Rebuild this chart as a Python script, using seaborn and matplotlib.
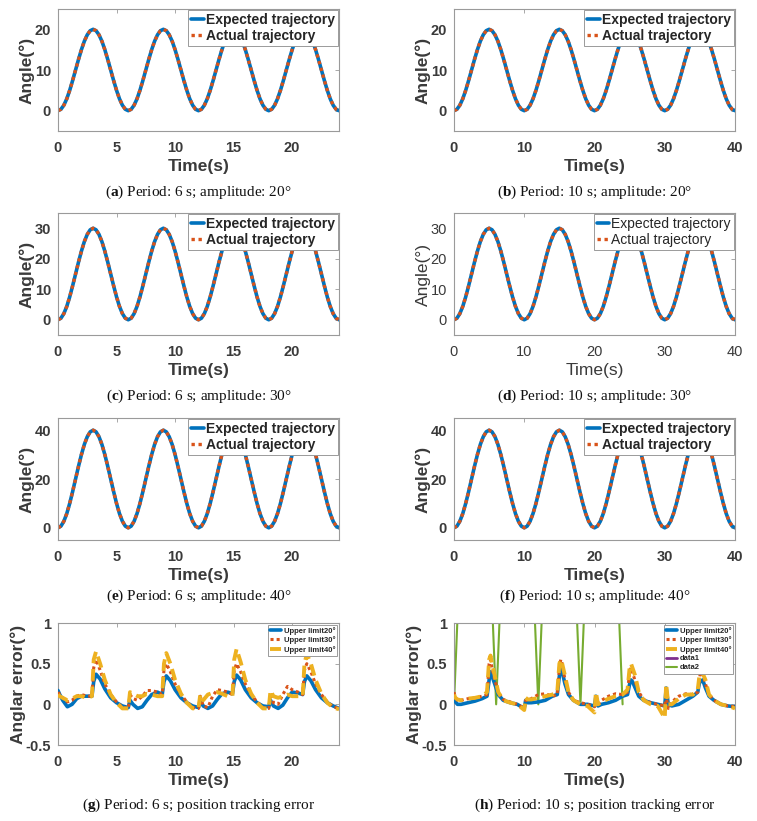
import matplotlib
matplotlib.use("Agg")
import matplotlib.pyplot as plt
import seaborn as sns

# one period of the trajectory, as a fraction of the amplitude (read every 1/24 of a period)
profile = [0.0, 0.017, 0.067, 0.146, 0.25, 0.371, 0.5, 0.629, 0.75, 0.854, 0.933, 0.983, 1.0,
           0.983, 0.933, 0.854, 0.75, 0.629, 0.5, 0.371, 0.25, 0.146, 0.067, 0.017]
periods = [6, 10, 6, 10, 6, 10]
amplitudes = [20, 20, 30, 30, 40, 40]
n_cycles = 4
yticks_traj = [[0, 10, 20], [0, 10, 20], [0, 10, 20, 30], [0, 10, 20, 30], [0, 20, 40], [0, 20, 40]]
ylims_traj = [(-5, 25), (-5, 25), (-5, 35), (-5, 35), (-5, 45), (-5, 45)]
captions = [("a", "Period: 6 s; amplitude: 20°"), ("b", "Period: 10 s; amplitude: 20°"),
            ("c", "Period: 6 s; amplitude: 30°"), ("d", "Period: 10 s; amplitude: 30°"),
            ("e", "Period: 6 s; amplitude: 40°"), ("f", "Period: 10 s; amplitude: 40°"),
            ("g", "Period: 6 s; position tracking error"), ("h", "Period: 10 s; position tracking error")]

# (g) tracking error, period 6 s
t_g = [0, 0.15, 0.4, 0.8, 1.2, 1.6, 2.0, 2.5, 2.9, 3.05, 3.25, 3.6, 4.0, 4.5, 5.0, 5.5,
       6, 6.15, 6.4, 6.8, 7.2, 7.6, 8.0, 8.5, 8.9, 9.05, 9.25, 9.6, 10.0, 10.5, 11.0, 11.5,
       12, 12.15, 12.4, 12.8, 13.2, 13.6, 14.0, 14.5, 14.9, 15.05, 15.25, 15.6, 16.0, 16.5, 17.0, 17.5,
       18, 18.15, 18.4, 18.8, 19.2, 19.6, 20.0, 20.5, 20.9, 21.05, 21.25, 21.6, 22.0, 22.5, 23.0, 23.5, 24]
err_g_20 = [0.17, 0.12, 0.05, -0.03, 0.0, 0.07, 0.1, 0.1, 0.1, 0.28, 0.37, 0.31, 0.19, 0.08, 0.02, -0.02,
            -0.04, 0.05, 0.0, -0.05, -0.03, 0.05, 0.12, 0.15, 0.12, 0.28, 0.35, 0.29, 0.18, 0.08, 0.02, -0.02,
            -0.04, 0.05, -0.02, -0.05, -0.02, 0.06, 0.13, 0.15, 0.13, 0.28, 0.36, 0.3, 0.18, 0.08, 0.02, -0.02,
            -0.03, 0.05, -0.02, -0.05, -0.01, 0.08, 0.15, 0.14, 0.12, 0.28, 0.35, 0.29, 0.18, 0.08, 0.02, -0.02, -0.05]
err_g_30 = [0.15, 0.12, 0.08, 0.03, 0.05, 0.1, 0.12, 0.1, 0.1, 0.45, 0.55, 0.42, 0.25, 0.12, 0.03, -0.04,
            -0.05, 0.12, 0.07, 0.05, 0.1, 0.17, 0.17, 0.15, 0.12, 0.42, 0.5, 0.4, 0.25, 0.12, 0.03, -0.04,
            -0.05, 0.1, -0.02, -0.04, 0.1, 0.18, 0.17, 0.15, 0.12, 0.42, 0.5, 0.4, 0.25, 0.12, 0.03, -0.04,
            -0.05, 0.1, 0.02, 0.0, 0.12, 0.22, 0.18, 0.15, 0.12, 0.42, 0.5, 0.4, 0.25, 0.12, 0.03, -0.03, -0.05]
err_g_40 = [0.12, 0.1, 0.08, 0.05, 0.07, 0.1, 0.1, 0.08, 0.1, 0.55, 0.65, 0.5, 0.3, 0.12, 0.02, -0.05,
            -0.05, 0.15, 0.13, 0.1, 0.1, 0.13, 0.12, 0.1, 0.1, 0.5, 0.63, 0.5, 0.3, 0.13, 0.02, -0.05,
            -0.05, 0.12, 0.05, 0.12, 0.14, 0.15, 0.13, 0.1, 0.1, 0.55, 0.68, 0.52, 0.3, 0.13, 0.02, -0.05,
            -0.05, 0.17, 0.1, 0.08, 0.1, 0.12, 0.1, 0.1, 0.1, 0.5, 0.62, 0.5, 0.3, 0.13, 0.02, -0.04, -0.06]

# (h) tracking error, period 10 s
t_h = [0, 0.2, 0.5, 1, 2, 3, 4, 4.7, 5.0, 5.2, 5.4, 5.8, 6.3, 7, 8, 9,
       10, 10.2, 10.5, 11, 12, 13, 14, 14.7, 15.0, 15.2, 15.4, 15.8, 16.3, 17, 18, 19,
       20, 20.2, 20.5, 21, 22, 23, 24, 24.7, 25.0, 25.2, 25.4, 25.8, 26.3, 27, 28, 29,
       30, 30.2, 30.5, 31, 32, 33, 34, 34.7, 35.0, 35.2, 35.4, 35.8, 36.3, 37, 38, 39, 40]
err_h_20 = [0.1, 0.03, 0.0, 0.0, 0.02, 0.04, 0.07, 0.1, 0.3, 0.4, 0.35, 0.25, 0.12, 0.05, 0.02, 0.0,
            -0.05, 0.05, 0.02, 0.02, 0.03, 0.05, 0.1, 0.12, 0.35, 0.45, 0.4, 0.25, 0.12, 0.05, 0.0, 0.0,
            -0.02, 0.1, -0.02, 0.0, 0.02, 0.05, 0.1, 0.12, 0.25, 0.3, 0.28, 0.2, 0.1, 0.05, 0.02, 0.0,
            -0.02, 0.2, 0.0, -0.02, 0.0, 0.05, 0.1, 0.15, 0.3, 0.28, 0.3, 0.2, 0.1, 0.05, 0.0, -0.02, -0.03]
err_h_30 = [0.15, 0.08, 0.05, 0.05, 0.07, 0.08, 0.1, 0.12, 0.5, 0.55, 0.45, 0.3, 0.15, 0.06, 0.03, 0.0,
            -0.05, 0.05, 0.05, 0.07, 0.12, 0.13, 0.1, 0.12, 0.45, 0.55, 0.5, 0.3, 0.15, 0.05, 0.02, 0.0,
            -0.03, 0.05, 0.0, 0.05, 0.1, 0.13, 0.12, 0.15, 0.4, 0.45, 0.4, 0.28, 0.15, 0.06, 0.02, 0.0,
            -0.02, 0.1, -0.05, 0.03, 0.1, 0.13, 0.12, 0.15, 0.35, 0.4, 0.38, 0.25, 0.12, 0.05, 0.0, -0.02, -0.03]
err_h_40 = [0.12, 0.08, 0.06, 0.05, 0.07, 0.08, 0.1, 0.15, 0.55, 0.6, 0.5, 0.35, 0.15, 0.05, 0.02, 0.0,
            -0.07, 0.08, 0.06, 0.06, 0.08, 0.1, 0.12, 0.15, 0.5, 0.55, 0.5, 0.35, 0.15, 0.05, 0.0, -0.02,
            -0.1, 0.15, 0.0, 0.03, 0.07, 0.1, 0.12, 0.18, 0.45, 0.5, 0.45, 0.35, 0.15, 0.05, 0.0, -0.02,
            -0.17, 0.25, 0.0, 0.0, 0.07, 0.12, 0.12, 0.18, 0.4, 0.4, 0.38, 0.3, 0.12, 0.05, 0.0, -0.02, -0.05]
t_data2 = [0, 3, 6, 9, 12, 15, 18, 21, 24]
data2 = [0, 6.4, 0, 6.4, 0, 6.4, 0, 6.4, 0]

BLUE, ORANGE, YELLOW, PURPLE, GREEN = "#0072BD", "#D95319", "#EDB120", "#7E2F8E", "#77AC30"
TXT, EDGE = "#3a3a3a", "#9a9a9a"

sns.set_theme(style="white")
plt.rcParams["font.family"] = ["Liberation Sans", "DejaVu Sans"]
plt.rcParams["mathtext.fontset"] = "custom"
plt.rcParams["mathtext.rm"] = "Liberation Serif"
plt.rcParams["mathtext.bf"] = "Liberation Serif:bold"

fig = plt.figure(figsize=(7.57, 8.21), dpi=100)
W, H = 757, 821
col_x = [58, 454]
ax_w = 281
row_top = [9, 213, 418, 623]
ax_h = 122
cap_gap = [61, 61, 56, 60]


def style_axes(ax, weight):
    for s in ax.spines.values():
        s.set_color(EDGE)
        s.set_linewidth(0.8)
    ax.tick_params(direction="in", length=3, width=0.6, color=EDGE, top=True, right=True,
                   labelsize=10.5, labelcolor=TXT)
    ax.tick_params(axis="x", pad=7)
    ax.tick_params(axis="y", pad=5)
    for lab in ax.get_xticklabels() + ax.get_yticklabels():
        lab.set_fontweight(weight)


for i in range(8):
    r, c = divmod(i, 2)
    left = col_x[c] / W
    bottom = 1 - (row_top[r] + ax_h) / H
    ax = fig.add_axes([left, bottom, ax_w / W, ax_h / H])
    weight = "normal" if i == 3 else "bold"
    if r < 3:
        T, A = periods[i], amplitudes[i]
        t = [T * k / len(profile) for k in range(len(profile) * n_cycles + 1)]
        y = [A * profile[k % len(profile)] for k in range(len(profile) * n_cycles + 1)]
        sns.lineplot(x=t, y=y, ax=ax, color=BLUE, linewidth=2.6, label="Expected trajectory")
        sns.lineplot(x=t, y=y, ax=ax, color=ORANGE, linewidth=2.4, linestyle=(0, (1, 1.1)),
                     label="Actual trajectory")
        ax.set_xlim(0, T * n_cycles)
        ax.set_ylim(*ylims_traj[i])
        ax.set_yticks(yticks_traj[i])
        ax.set_xticks(list(range(0, T * n_cycles + 1, 5 if T == 6 else 10)))
        ax.set_ylabel("Angle(°)", fontsize=12.5, fontweight=weight, color=TXT, labelpad=0)
        leg = ax.legend(loc="upper right", handlelength=0.9, handletextpad=0.15,
                        borderpad=0.2, labelspacing=0.12, borderaxespad=0.1, fancybox=False,
                        prop={"weight": weight, "size": 10})
    else:
        if c == 0:
            tt, series, T = t_g, [err_g_20, err_g_30, err_g_40], 6
        else:
            tt, series, T = t_h, [err_h_20, err_h_30, err_h_40], 10
        if c == 1:
            sns.lineplot(x=t_data2, y=data2, ax=ax, color=GREEN, linewidth=1.5, label="data2", zorder=1)
        sns.lineplot(x=tt, y=series[0], ax=ax, color=BLUE, linewidth=2.6, label="Upper limit20°", zorder=3)
        sns.lineplot(x=tt, y=series[1], ax=ax, color=ORANGE, linewidth=2.2, linestyle=(0, (1, 1)),
                     label="Upper limit30°", zorder=4)
        sns.lineplot(x=tt, y=series[2], ax=ax, color=YELLOW, linewidth=2.8, linestyle=(0, (3, 1.5)),
                     label="Upper limit40°", zorder=5)
        if c == 1:
            ax.plot([], [], color=PURPLE, linewidth=2, label="data1")
        ax.set_xlim(0, T * n_cycles)
        ax.set_ylim(-0.5, 1)
        ax.set_yticks([-0.5, 0, 0.5, 1])
        ax.set_yticklabels(["-0.5", "0", "0.5", "1"])
        ax.set_xticks(list(range(0, T * n_cycles + 1, 5 if T == 6 else 10)))
        ax.set_ylabel("Anglar error(°)", fontsize=12.5, fontweight="bold", color=TXT, labelpad=0)
        handles, labels = ax.get_legend_handles_labels()
        order = ["Upper limit20°", "Upper limit30°", "Upper limit40°", "data1", "data2"]
        hl = [(handles[labels.index(o)], o) for o in order if o in labels]
        leg = ax.legend([h for h, _ in hl], [l for _, l in hl], loc="upper right",
                        handlelength=1.5, handletextpad=0.3, borderpad=0.3, labelspacing=0.2,
                        borderaxespad=0.2, fancybox=False, prop={"weight": "bold", "size": 5.5})
    leg.get_frame().set_edgecolor(EDGE)
    leg.get_frame().set_linewidth(0.7)
    leg.get_frame().set_alpha(1)
    ax.set_xlabel("Time(s)", fontsize=12.5, fontweight=weight, color=TXT, labelpad=3)
    style_axes(ax, weight)

    letter, text = captions[i]
    cx = (col_x[c] + ax_w / 2) / W
    cy = 1 - (row_top[r] + ax_h + cap_gap[r]) / H
    fig.text(cx, cy, "(" + r"$\mathbf{" + letter + "}$" + ") " + text, ha="center", va="center",
             fontsize=11, family="Liberation Serif", color="#111111")

fig.savefig("out.png", dpi=100)
